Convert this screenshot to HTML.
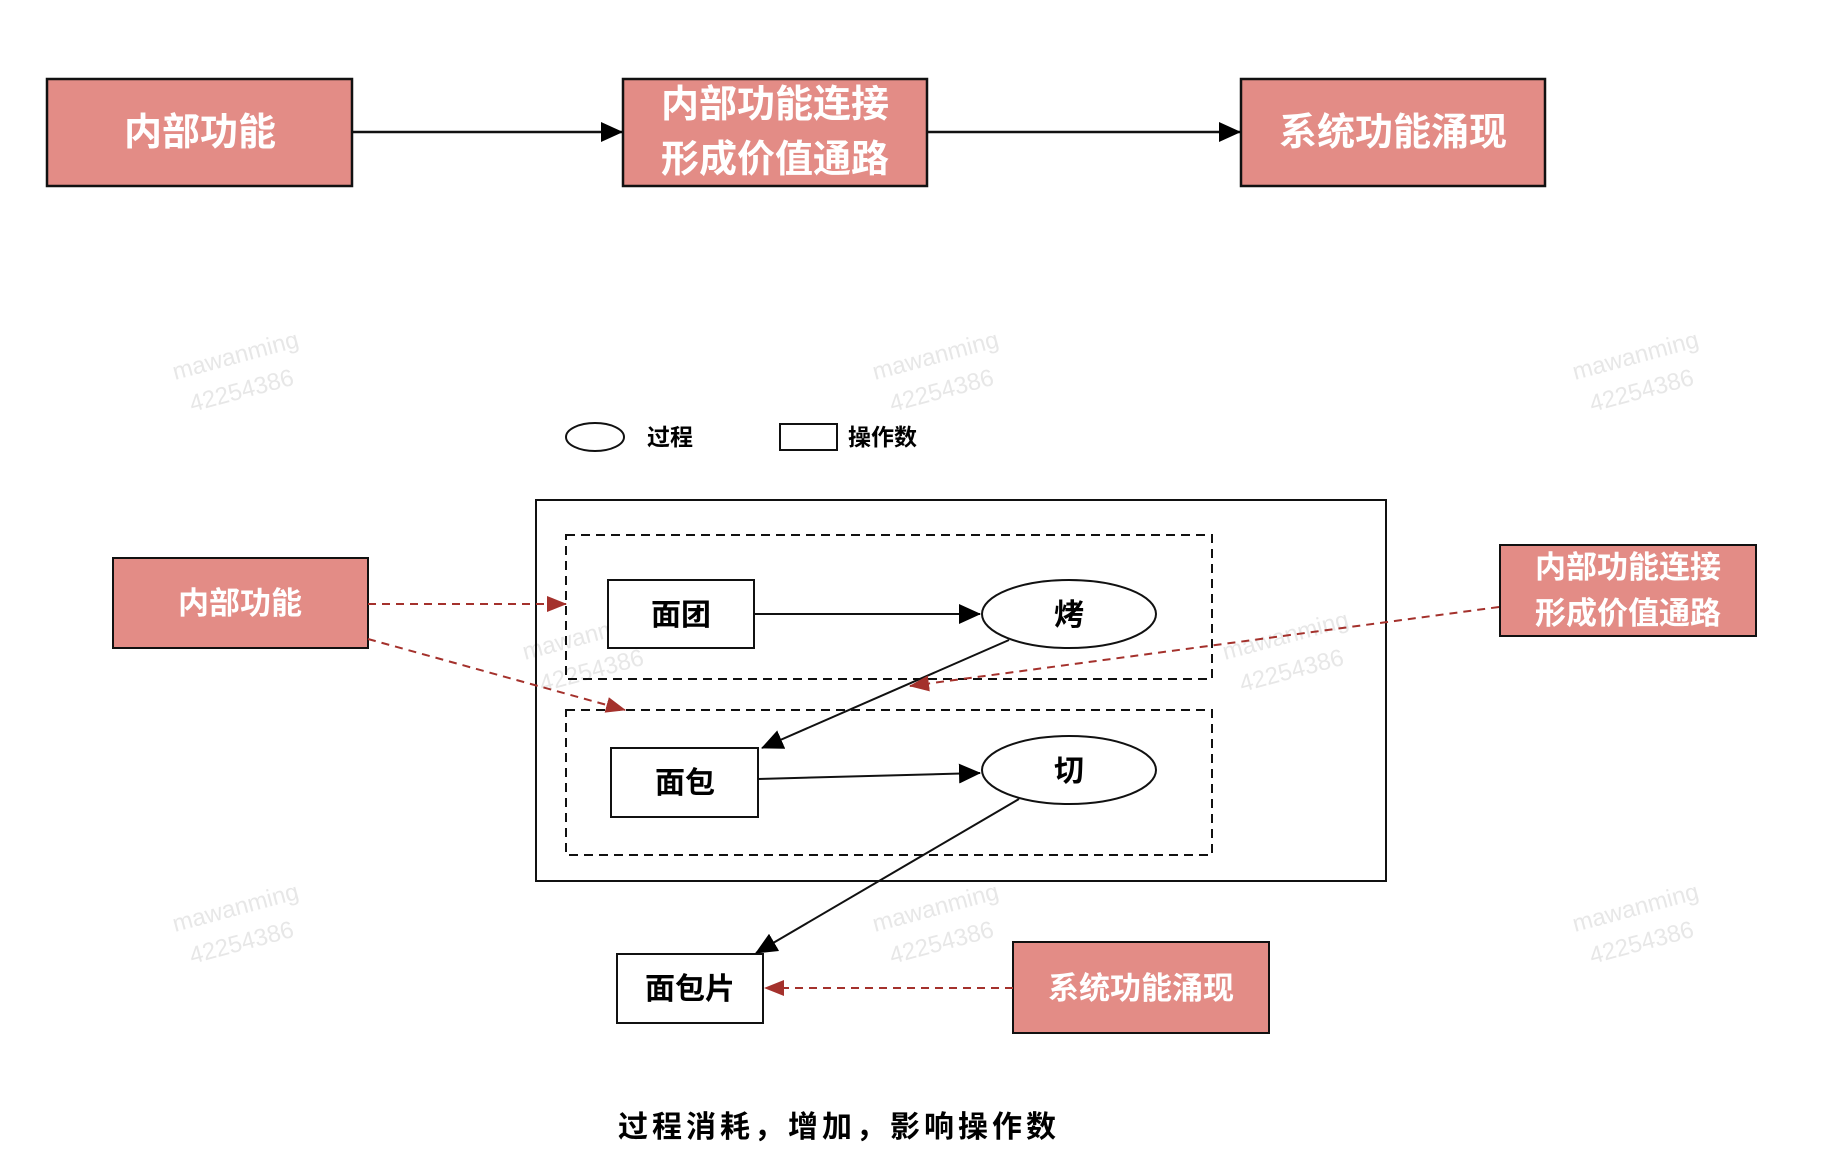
<!DOCTYPE html>
<html><head><meta charset="utf-8"><style>
html,body{margin:0;padding:0;background:#fff;}
svg{display:block;}
text{font-family:"Liberation Sans","Noto Sans CJK SC",sans-serif;}
</style></head><body>
<svg width="1822" height="1162" viewBox="0 0 1822 1162" xmlns="http://www.w3.org/2000/svg">
<defs>
<marker id="ab2" markerWidth="22" markerHeight="20" refX="21" refY="10" orient="auto" markerUnits="userSpaceOnUse"><path d="M0,0 L22,10 L0,20 z" fill="#000"/></marker>
<marker id="ar" markerWidth="20" markerHeight="16" refX="19" refY="8" orient="auto" markerUnits="userSpaceOnUse"><path d="M0,0 L20,8 L0,16 z" fill="#a4312c"/></marker>
</defs>
<g fill="#d8d8d8" font-size="24" opacity="0.6">
<text transform="translate(175,380) rotate(-15)">mawanming</text><text transform="translate(192,412) rotate(-15)">42254386</text>
<text transform="translate(875,380) rotate(-15)">mawanming</text><text transform="translate(892,412) rotate(-15)">42254386</text>
<text transform="translate(1575,380) rotate(-15)">mawanming</text><text transform="translate(1592,412) rotate(-15)">42254386</text>
<text transform="translate(175,932) rotate(-15)">mawanming</text><text transform="translate(192,964) rotate(-15)">42254386</text>
<text transform="translate(875,932) rotate(-15)">mawanming</text><text transform="translate(892,964) rotate(-15)">42254386</text>
<text transform="translate(1575,932) rotate(-15)">mawanming</text><text transform="translate(1592,964) rotate(-15)">42254386</text>
<text transform="translate(525,660) rotate(-15)">mawanming</text><text transform="translate(542,692) rotate(-15)">42254386</text>
<text transform="translate(1225,660) rotate(-15)">mawanming</text><text transform="translate(1242,692) rotate(-15)">42254386</text>
</g>
<g stroke="#111" stroke-width="2.5" fill="#e38c86">
<rect x="47" y="79" width="305" height="107"/>
<rect x="623" y="79" width="304" height="107"/>
<rect x="1241" y="79" width="304" height="107"/>
</g>
<g stroke="#111" stroke-width="2.5">
<line x1="352" y1="132" x2="622" y2="132" marker-end="url(#ab2)"/>
<line x1="927" y1="132" x2="1240" y2="132" marker-end="url(#ab2)"/>
</g>
<g fill="#fff" font-size="38" text-anchor="middle" font-weight="bold">
<text x="200" y="145">内部功能</text>
<text x="775" y="117">内部功能连接</text>
<text x="775" y="172">形成价值通路</text>
<text x="1393" y="145">系统功能涌现</text>
</g>
<ellipse cx="595" cy="437" rx="29" ry="14" fill="none" stroke="#111" stroke-width="2"/>
<text x="647" y="445" font-size="23" font-weight="bold">过程</text>
<rect x="780" y="424" width="57" height="26" fill="none" stroke="#111" stroke-width="2"/>
<text x="848" y="445" font-size="23" font-weight="bold">操作数</text>
<rect x="536" y="500" width="850" height="381" fill="none" stroke="#111" stroke-width="2"/>
<rect x="566" y="535" width="646" height="144" fill="none" stroke="#111" stroke-width="2" stroke-dasharray="9,6"/>
<rect x="566" y="710" width="646" height="145" fill="none" stroke="#111" stroke-width="2" stroke-dasharray="9,6"/>
<g fill="#fff" stroke="#111" stroke-width="2">
<rect x="608" y="580" width="146" height="68"/>
<ellipse cx="1069" cy="614" rx="87" ry="34"/>
<rect x="611" y="748" width="147" height="69"/>
<ellipse cx="1069" cy="770" rx="87" ry="34"/>
<rect x="617" y="954" width="146" height="69"/>
</g>
<g font-size="30" text-anchor="middle" fill="#000" font-weight="bold">
<text x="681" y="625">面团</text>
<text x="1069" y="625">烤</text>
<text x="685" y="793">面包</text>
<text x="1069" y="781">切</text>
<text x="690" y="999">面包片</text>
</g>
<g stroke="#111" stroke-width="2">
<line x1="754" y1="614" x2="980" y2="614" marker-end="url(#ab2)"/>
<line x1="1009" y1="640" x2="762" y2="748" marker-end="url(#ab2)"/>
<line x1="758" y1="779" x2="980" y2="773" marker-end="url(#ab2)"/>
<line x1="1019" y1="799" x2="756" y2="953" marker-end="url(#ab2)"/>
</g>
<g stroke="#111" stroke-width="2" fill="#e38c86">
<rect x="113" y="558" width="255" height="90"/>
<rect x="1500" y="545" width="256" height="91"/>
<rect x="1013" y="942" width="256" height="91"/>
</g>
<g fill="#fff" font-size="31" text-anchor="middle" font-weight="bold">
<text x="240" y="614">内部功能</text>
<text x="1628" y="578">内部功能连接</text>
<text x="1628" y="624">形成价值通路</text>
<text x="1141" y="999">系统功能涌现</text>
</g>
<g stroke="#a4312c" stroke-width="2" stroke-dasharray="8,6" fill="none">
<line x1="368" y1="604" x2="566" y2="604" marker-end="url(#ar)"/>
<line x1="368" y1="639" x2="625" y2="710" marker-end="url(#ar)"/>
<line x1="1499" y1="607" x2="910" y2="686" marker-end="url(#ar)"/>
<line x1="1013" y1="988" x2="765" y2="988" marker-end="url(#ar)"/>
</g>
<text x="618" y="1137" font-size="30" font-weight="bold" letter-spacing="4">过程消耗，增加，影响操作数</text>
</svg>
</body></html>
